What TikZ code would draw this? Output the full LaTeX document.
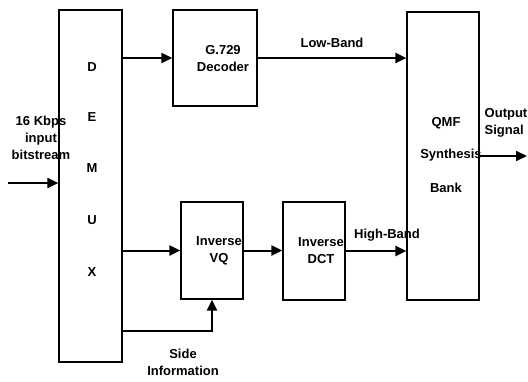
\documentclass[tikz,border=0pt]{standalone}
\usepackage{fontspec}
\setmainfont{Liberation Sans}
\usetikzlibrary{arrows.meta}
\begin{document}
\begin{tikzpicture}[x=1pt,y=-1pt,
  box/.style={draw,line width=1.2pt,inner sep=0pt,rectangle},
  txt/.style={font=\fontsize{13}{17}\selectfont\bfseries,align=center,inner sep=0pt},
  arr/.style={line width=2pt,-{Triangle[length=11pt,width=10pt]}}]
\useasboundingbox (0,0) rectangle (528,381);
% boxes
\node[box,minimum width=63pt,minimum height=352pt] (demux) at (90.5,186) {};
\node[box,minimum width=84pt,minimum height=96pt] (g729) at (215,58) {};
\node[box,minimum width=62pt,minimum height=97pt] (vq) at (212,250.5) {};
\node[box,minimum width=62pt,minimum height=98pt] (dct) at (314,251) {};
\node[box,minimum width=72pt,minimum height=288pt] (qmf) at (443,156) {};
% box texts
\node[txt] (tD) at (92,67) {D};
\node[txt] (tE) at (92,117) {E};
\node[txt] (tM) at (92,168) {M};
\node[txt] (tU) at (92,220) {U};
\node[txt] (tX) at (92,272) {X};
\node[txt] (tg) at (223,58.5) {G.729\\Decoder};
\node[txt] (tvq) at (219,250.5) {Inverse\\VQ};
\node[txt] (tdct) at (321,251) {Inverse\\DCT};
\node[txt] (tq1) at (446,123) {QMF};
\node[txt] (tq2) at (451,155) {Synthesis};
\node[txt] (tq3) at (446,188) {Bank};
% labels
\node[txt] (lin) at (41,138) {16 Kbps\\input\\bitstream};
\node[txt] (llow) at (332,43) {Low-Band};
\node[txt] (lhigh) at (387,235) {High-Band};
\node[txt,align=left,anchor=west] (lout) at (484.5,123) {Output\\Signal};
\node[txt] (lside) at (183,362) {Side\\Information};
% connectors
\coordinate (in) at (8,183);
\coordinate (out) at (527,156);
\coordinate (sidey) at (0,331);
\draw[arr] (in) -- (in -| demux.west);
\draw[arr] (demux.east |- g729) -- (g729.west);
\draw[arr] (g729.east) -- (g729.east -| qmf.west);
\draw[arr] (demux.east |- vq) -- (vq.west);
\draw[arr] (vq.east) -- (vq.east -| dct.west);
\draw[arr] (dct.east) -- (dct.east -| qmf.west);
\draw[arr] (demux.east |- sidey) -| (vq.south);
\draw[arr] (out -| qmf.east) -- (out);
\end{tikzpicture}
\end{document}
